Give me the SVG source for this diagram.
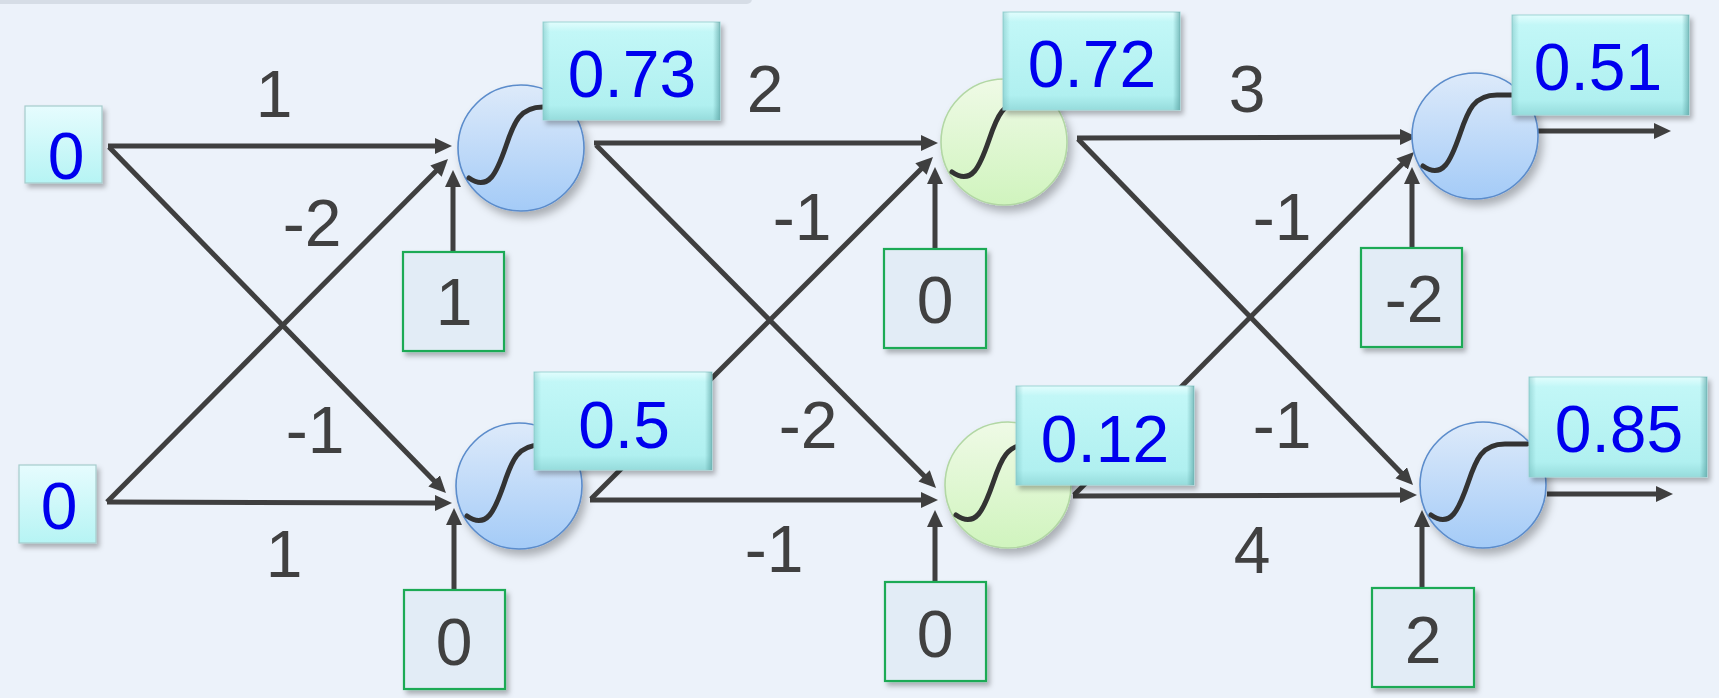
<svg xmlns="http://www.w3.org/2000/svg" width="1719" height="698" viewBox="0 0 1719 698">
<defs>
<style>
.bg{fill:#ECF2FA}
.ln{stroke:#3F3F3F;stroke-width:5;fill:none;marker-end:url(#ah)}
.neuB{fill:url(#gB);stroke:#5B8CCB;stroke-width:1.6;filter:url(#sh)}
.neuG{fill:url(#gG);stroke:#B2D7A4;stroke-width:1.6;filter:url(#sh)}
.sig{stroke:#333333;stroke-width:5;fill:none;stroke-linecap:round}
.lab{fill:url(#gC);stroke:#9ED6D6;stroke-width:1;filter:url(#sh2)}
.bev{fill:url(#gE);stroke:none}
.inp{fill:url(#gI);stroke:#A6CCCC;stroke-width:1.2;filter:url(#sh2)}
.bias{fill:#E2ECF6;stroke:#1FAA55;stroke-width:2.2;filter:url(#sh2)}
.tb{font-family:"Liberation Sans",Arial,sans-serif;font-size:66px;fill:#0000EE;text-anchor:middle}
.tg{font-family:"Liberation Sans",Arial,sans-serif;font-size:66px;fill:#404040;text-anchor:middle}
</style>
<linearGradient id="gB" x1="0" y1="0" x2="0" y2="1">
<stop offset="0" stop-color="#DDEAFA"/><stop offset="1" stop-color="#A4CBF7"/>
</linearGradient>
<linearGradient id="gG" x1="0" y1="0" x2="0" y2="1">
<stop offset="0" stop-color="#EFFAE6"/><stop offset="1" stop-color="#D0F4BE"/>
</linearGradient>
<linearGradient id="gC" x1="0" y1="0" x2="0" y2="1">
<stop offset="0" stop-color="#E2FDFD"/><stop offset="0.1" stop-color="#C2F7F7"/><stop offset="0.85" stop-color="#B0F0F0"/><stop offset="1" stop-color="#96DCDC"/>
</linearGradient>
<linearGradient id="gE" x1="0" y1="0" x2="1" y2="0">
<stop offset="0" stop-color="#6FB8B8" stop-opacity="0.45"/><stop offset="0.04" stop-color="#6FB8B8" stop-opacity="0"/><stop offset="0.96" stop-color="#4F9A9A" stop-opacity="0"/><stop offset="1" stop-color="#4F9A9A" stop-opacity="0.6"/>
</linearGradient>
<linearGradient id="gI" x1="0" y1="0" x2="0" y2="1">
<stop offset="0" stop-color="#E6FCFE"/><stop offset="1" stop-color="#B6F4F4"/>
</linearGradient>
<filter id="sh" x="-30%" y="-30%" width="160%" height="160%">
<feDropShadow dx="4" dy="6" stdDeviation="4" flood-color="#000" flood-opacity="0.28"/>
</filter>
<filter id="sh2" x="-20%" y="-20%" width="140%" height="150%">
<feDropShadow dx="3" dy="4" stdDeviation="2.5" flood-color="#000" flood-opacity="0.28"/>
</filter>
<marker id="ah" markerUnits="userSpaceOnUse" markerWidth="18" markerHeight="18" refX="3" refY="8" orient="auto">
<path d="M0,0 L17,8 L0,16 z" fill="#3F3F3F"/>
</marker>
<path id="sg" d="M-52,30 C-32,44 -24,24 -15,-2 C-7,-26 -1,-41 22,-41 L44,-41"/>
</defs>

<rect class="bg" x="0" y="0" width="1719" height="698"/>
<rect x="-10" y="-6" width="762" height="10" rx="5" fill="#D6DDE6"/>

<g id="connectors">
<line class="ln" x1="108" y1="146" x2="438" y2="146"/>
<line class="ln" x1="109" y1="147" x2="436.2" y2="483"/>
<line class="ln" x1="107" y1="502" x2="438.1" y2="168.9"/>
<line class="ln" x1="107" y1="502" x2="438" y2="503"/>
<line class="ln" x1="453" y1="252" x2="453" y2="184"/>
<line class="ln" x1="454" y1="590" x2="454" y2="522"/>

<line class="ln" x1="594" y1="143" x2="924" y2="143"/>
<line class="ln" x1="596" y1="145" x2="926.2" y2="478"/>
<line class="ln" x1="590" y1="500" x2="924" y2="500"/>
<line class="ln" x1="591" y1="499" x2="923.1" y2="166.9"/>
<line class="ln" x1="935" y1="249" x2="935" y2="181"/>
<line class="ln" x1="935" y1="582" x2="935" y2="524"/>

<line class="ln" x1="1077" y1="138" x2="1403" y2="137"/>
<line class="ln" x1="1078" y1="139" x2="1403.3" y2="474.9"/>
<line class="ln" x1="1073" y1="496" x2="1403" y2="495"/>
<line class="ln" x1="1074" y1="495" x2="1404.2" y2="162"/>
<line class="ln" x1="1412" y1="248" x2="1412" y2="181"/>
<line class="ln" x1="1422" y1="588" x2="1422" y2="524"/>

<line class="ln" x1="1538" y1="131" x2="1657" y2="131"/>
<line class="ln" x1="1547" y1="494" x2="1659" y2="494"/>
</g>

<g id="weights">
<text class="tg" x="274" y="117">1</text>
<text class="tg" x="312" y="246">-2</text>
<text class="tg" x="315" y="453">-1</text>
<text class="tg" x="284" y="577">1</text>
<text class="tg" x="765" y="112">2</text>
<text class="tg" x="802" y="240">-1</text>
<text class="tg" x="808" y="448">-2</text>
<text class="tg" x="774" y="572">-1</text>
<text class="tg" x="1247" y="112">3</text>
<text class="tg" x="1282" y="240">-1</text>
<text class="tg" x="1282" y="448">-1</text>
<text class="tg" x="1252" y="573">4</text>
</g>

<g id="input1">
<rect class="inp" x="25" y="106" width="77" height="77"/>
<text class="tb" x="66" y="179">0</text>
</g>
<g id="input2">
<rect class="inp" x="19" y="465" width="77" height="78"/>
<text class="tb" x="59" y="529">0</text>
</g>

<g id="bias1">
<rect class="bias" x="403" y="252" width="101" height="99"/>
<text class="tg" x="454" y="325">1</text>
</g>
<g id="bias2">
<rect class="bias" x="404" y="590" width="101" height="99"/>
<text class="tg" x="454" y="665">0</text>
</g>
<g id="bias3">
<rect class="bias" x="884" y="249" width="102" height="99"/>
<text class="tg" x="935" y="323">0</text>
</g>
<g id="bias4">
<rect class="bias" x="885" y="582" width="101" height="99"/>
<text class="tg" x="935" y="657">0</text>
</g>
<g id="bias5">
<rect class="bias" x="1361" y="248" width="101" height="99"/>
<text class="tg" x="1414" y="322">-2</text>
</g>
<g id="bias6">
<rect class="bias" x="1372" y="588" width="102" height="99"/>
<text class="tg" x="1423" y="663">2</text>
</g>

<g id="h1a">
<circle class="neuB" cx="521" cy="148" r="63"/>
<use href="#sg" class="sig" transform="translate(521,148)"/>
<rect class="lab" x="543" y="22" width="177" height="98"/>
<rect class="bev" x="543" y="22" width="177" height="98"/>
<text class="tb" x="632" y="97">0.73</text>
</g>
<g id="h1b">
<circle class="neuB" cx="519" cy="486" r="63"/>
<use href="#sg" class="sig" transform="translate(519,486)"/>
<rect class="lab" x="534" y="372" width="178" height="98"/>
<rect class="bev" x="534" y="372" width="178" height="98"/>
<text class="tb" x="624" y="448">0.5</text>
</g>
<g id="h2a">
<circle class="neuG" cx="1004" cy="142" r="63"/>
<use href="#sg" class="sig" transform="translate(1004,142)"/>
<rect class="lab" x="1003" y="12" width="177" height="98"/>
<rect class="bev" x="1003" y="12" width="177" height="98"/>
<text class="tb" x="1092" y="87">0.72</text>
</g>
<g id="h2b">
<circle class="neuG" cx="1008" cy="485" r="63"/>
<use href="#sg" class="sig" transform="translate(1008,485)"/>
<rect class="lab" x="1016" y="386" width="178" height="99"/>
<rect class="bev" x="1016" y="386" width="178" height="99"/>
<text class="tb" x="1105" y="462">0.12</text>
</g>
<g id="o1">
<circle class="neuB" cx="1475" cy="136" r="63"/>
<use href="#sg" class="sig" transform="translate(1475,136)"/>
<rect class="lab" x="1512" y="15" width="177" height="100"/>
<rect class="bev" x="1512" y="15" width="177" height="100"/>
<text class="tb" x="1598" y="90">0.51</text>
</g>
<g id="o2">
<circle class="neuB" cx="1483" cy="485" r="63"/>
<use href="#sg" class="sig" transform="translate(1483,485)"/>
<rect class="lab" x="1529" y="377" width="178" height="100"/>
<rect class="bev" x="1529" y="377" width="178" height="100"/>
<text class="tb" x="1619" y="452">0.85</text>
</g>
</svg>
